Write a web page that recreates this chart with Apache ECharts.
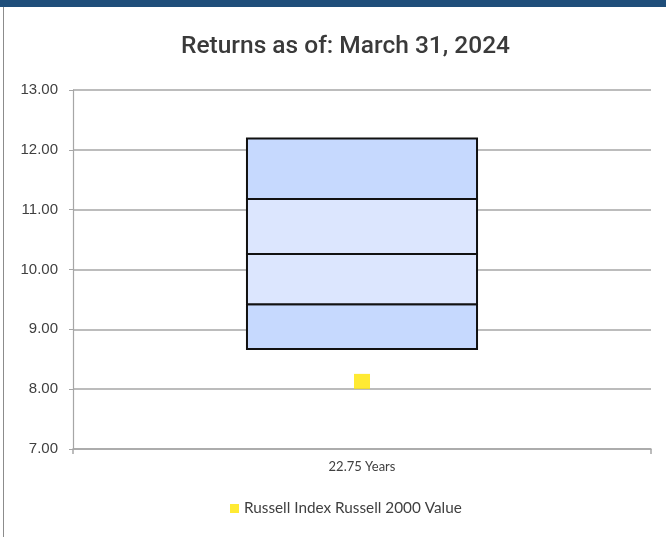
<!DOCTYPE html>
<html>
<head>
<meta charset="utf-8">
<script src="https://cdn.jsdelivr.net/npm/echarts@6/dist/echarts.min.js"></script>
<style>
  html, body { margin: 0; padding: 0; background: #fff; }
  #chart { width: 666px; height: 537px; }
</style>
</head>
<body>
<div id="chart"></div>
<script>
// Period label on the x axis
const categories = ['22.75 Years'];
// Universe return bands: 5th, 25th, 50th, 75th, 95th percentile boundaries
const bandEdges = [8.67, 9.42, 10.26, 11.18, 12.19];
// Benchmark return
const indexName = 'Russell Index Russell 2000 Value';
const indexValues = [8.13];
// Value axis ticks
const yTicks = [7, 8, 9, 10, 11, 12, 13];

const chart = echarts.init(document.getElementById('chart'), null, { renderer: 'canvas' });

const outerFill = '#C6D9FE';
const innerFill = '#DCE6FE';

const option = {
  animation: false,
  backgroundColor: '#ffffff',
  title: {
    text: 'Returns as of: March 31, 2024',
    left: 176,
    top: 29,
    textStyle: {
      fontFamily: 'Roboto',
      fontSize: 24.5,
      fontWeight: 500,
      color: '#3a3a3a'
    }
  },
  graphic: [
    { type: 'rect', shape: { x: 0, y: 0, width: 666, height: 7 }, style: { fill: '#1F4E7A' }, silent: true },
    { type: 'line', shape: { x1: 3.5, y1: 7, x2: 3.5, y2: 537 }, style: { stroke: '#8c8c8c', lineWidth: 1 }, silent: true }
  ],
  legend: {
    data: [indexName],
    bottom: 16,
    left: 225,
    icon: 'rect',
    itemWidth: 9,
    itemHeight: 9,
    itemGap: 4,
    textStyle: { fontFamily: 'Lato', fontSize: 15.3, color: '#404040' }
  },
  grid: { left: 73, right: 15, top: 90, bottom: 88 },
  xAxis: {
    type: 'category',
    data: categories,
    axisLine: { show: true, lineStyle: { color: '#a6a6a6', width: 1.5 } },
    axisTick: { show: true, alignWithLabel: false, length: 5, lineStyle: { color: '#a6a6a6', width: 1.5 } },
    axisLabel: { fontFamily: 'Lato', fontSize: 13, color: '#404040', margin: 11 }
  },
  yAxis: {
    type: 'value',
    min: yTicks[0],
    max: yTicks[yTicks.length - 1],
    interval: 1,
    axisLine: { show: true, lineStyle: { color: '#a6a6a6', width: 1.2 } },
    axisTick: { show: true, length: 4, lineStyle: { color: '#a6a6a6' } },
    axisLabel: {
      fontFamily: 'Liberation Sans',
      fontSize: 15,
      color: '#404040',
      margin: 15,
      formatter: v => v.toFixed(2)
    },
    splitLine: { show: true, lineStyle: { color: '#a6a6a6', width: 1.5 } }
  },
  series: [
    {
      type: 'custom',
      name: 'bands',
      z: 3,
      data: [[0].concat(bandEdges)],
      encode: { x: 0, y: [1, 2, 3, 4, 5] },
      renderItem: function (params, api) {
        const catW = api.size([1, 0])[0];
        const w = catW * 0.398;
        const cx = api.coord([api.value(0), bandEdges[0]])[0];
        const children = [];
        for (let i = 0; i < 4; i++) {
          const yLow = api.coord([0, api.value(i + 1)])[1];
          const yHigh = api.coord([0, api.value(i + 2)])[1];
          children.push({
            type: 'rect',
            shape: { x: cx - w / 2, y: yHigh, width: w, height: yLow - yHigh },
            style: {
              fill: (i === 0 || i === 3) ? outerFill : innerFill,
              stroke: '#111111',
              lineWidth: 2
            }
          });
        }
        return { type: 'group', children: children };
      }
    },
    {
      type: 'scatter',
      name: indexName,
      z: 4,
      data: indexValues,
      symbol: 'rect',
      symbolSize: [16, 15],
      itemStyle: { color: '#FFE500' }
    }
  ]
};

chart.setOption(option);
</script>
</body>
</html>
